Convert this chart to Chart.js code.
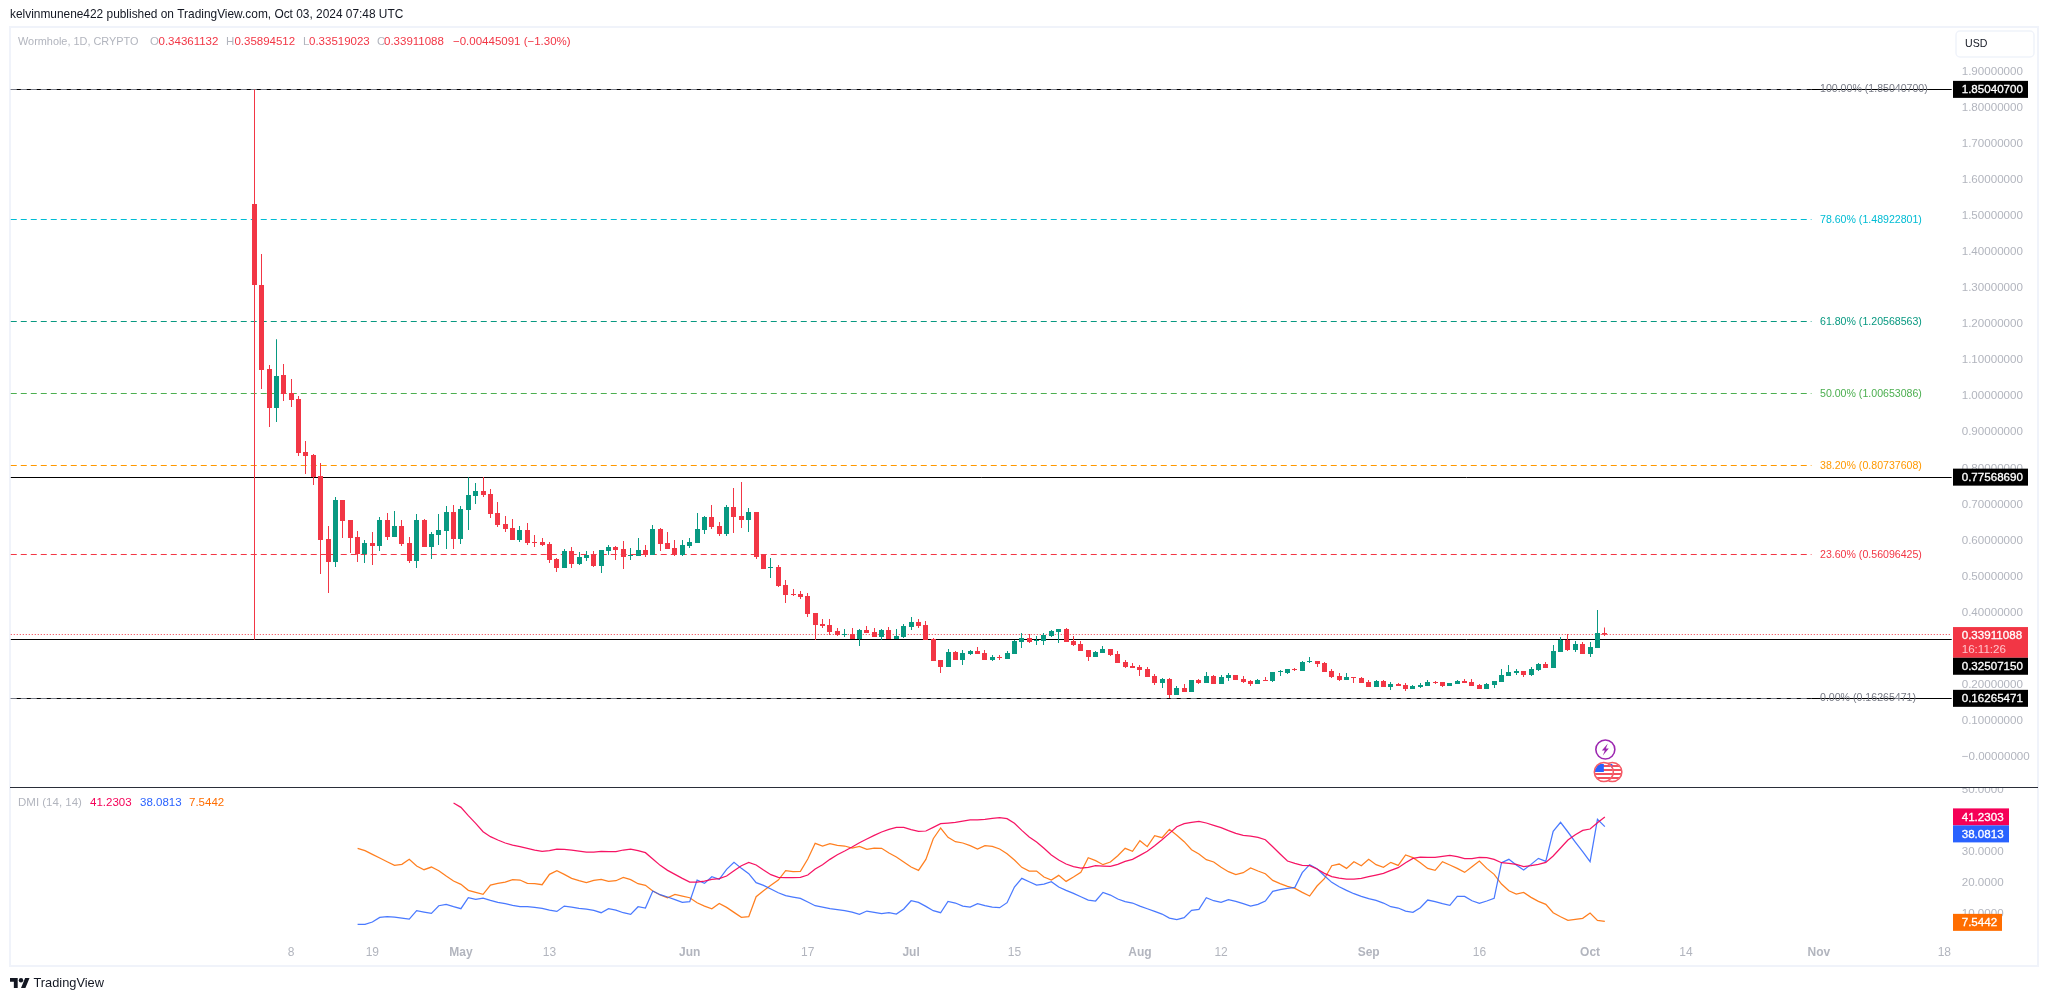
<!DOCTYPE html>
<html><head><meta charset="utf-8">
<style>html,body{margin:0;padding:0;background:#fff}canvas{display:block}</style>
<script src="https://cdn.jsdelivr.net/npm/chart.js@4/dist/chart.umd.min.js"></script>
</head><body><canvas id="c" width="2048" height="1001"></canvas>
<script>
const firstCandleDate='2024-04-03', diStartDate='2024-04-17', adxStartDate='2024-04-30';
const opens=[1.5327,1.3082,1.0754,.9673,1.0588,1.0089,.9922,.8453,.8370,.7788,
.6042,.5404,.7123,.6568,.6097,.5626,.5931,.5848,.6568,.6097,
.6402,.5931,.5432,.6568,.5820,.6153,.6263,.6790,.6042,.6846,
.7234,.7372,.7289,.6762,.6457,.6347,.6014,.6291,.5958,.5958,
.5903,.5487,.5238,.5709,.5349,.5515,.5598,.5293,.5709,.5820,
.5765,.5570,.5570,.5737,.5598,.6319,.5931,.5792,.5598,.5848,
.5931,.6291,.6652,.6402,.6180,.6929,.6679,.6568,.6790,.5598,
.5238,.5266,.4767,.4517,.4517,.4462,.3990,.3686,.3658,.3491,
.3381,.3408,.3270,.3519,.3464,.3325,.3519,.3270,.3325,.3602,
.3741,.3658,.3270,.2688,.2493,.2909,.2688,.2854,.2937,.2882,
.2688,.2771,.2715,.2854,.3186,.3297,.3215,.3215,.3354,.3465,
.3548,.3215,.3132,.2966,.2772,.2882,.2993,.2855,.2633,.2522,
.2494,.2439,.2245,.2051,.2162,.1718,.1912,.1801,.2134,.2051,
.2245,.2023,.2190,.2273,.2162,.2106,.2023,.2134,.2106,.2356,
.2328,.2439,.2384,.2633,.2661,.2605,.2384,.2245,.2134,.2217,
.2190,.2079,.1940,.2106,.1940,.2023,.1995,.1884,.1940,.1968,
.2079,.2079,.1968,.2023,.2106,.2079,.1995,.1884,.1995,.2079,
.2245,.2328,.2384,.2273,.2411,.2578,.2467,.2910,.3243,.2966,
.3132,.2855,.3021,.34361132];
const highs=[1.8504,1.394,1.0865,1.158,1.0893,1.0477,1.0006,.8758,.8398,.8148,
.6402,.7206,.7123,.6568,.6263,.6014,.6236,.6651,.6762,.6818,
.6568,.6097,.6735,.6596,.6236,.6735,.6956,.6984,.6956,.7751,
.7594,.7760,.7428,.7067,.6679,.6596,.6402,.6485,.6153,.6069,
.5958,.5515,.5765,.5820,.5682,.5709,.5709,.5737,.5875,.5848,
.5986,.5792,.6069,.5875,.6430,.6347,.6236,.6014,.6014,.6069,
.6762,.6679,.6984,.6513,.6984,.7455,.7622,.6901,.6790,.5626,
.5515,.5321,.4905,.4656,.4600,.4545,.3990,.3824,.3824,.3575,
.3547,.3575,.3547,.3630,.3575,.3547,.3602,.3547,.3686,.3879,
.3824,.3769,.3297,.2688,.2993,.2937,.2965,.2965,.3048,.2965,
.2826,.2826,.2937,.3242,.3436,.3408,.3354,.3437,.3520,.3548,
.3575,.3354,.3215,.2966,.2938,.3077,.2993,.2938,.2688,.2605,
.2550,.2494,.2300,.2190,.2190,.1968,.2023,.2134,.2162,.2356,
.2273,.2273,.2328,.2273,.2245,.2134,.2162,.2217,.2356,.2411,
.2439,.2467,.2661,.2772,.2661,.2633,.2439,.2328,.2328,.2217,
.2217,.2134,.2134,.2134,.2079,.2051,.2051,.1995,.2051,.2134,
.2106,.2079,.2051,.2134,.2162,.2162,.2023,.2051,.2106,.2439,
.2550,.2439,.2384,.2494,.2605,.2633,.3104,.3326,.3409,.3215,
.3187,.3187,.4074,.35894512];
const lows=[.3250,1.020,.9146,.9285,.9867,.9701,.8342,.7843,.7539,.5071,
.4545,.5265,.6069,.5654,.5404,.5376,.5321,.5709,.6014,.6097,
.5848,.5376,.5238,.5820,.5487,.5875,.5765,.5765,.5903,.6291,
.7012,.7206,.6624,.6374,.6236,.6014,.5958,.5875,.5820,.5848,
.5376,.5127,.5238,.5238,.5321,.5432,.5265,.5099,.5598,.5460,
.5210,.5460,.5570,.5543,.5598,.5709,.5765,.5570,.5570,.5792,
.5931,.6180,.6319,.6125,.6125,.6208,.6347,.6236,.5487,.5210,
.4961,.4711,.4268,.4462,.4379,.3879,.3242,.3575,.3381,.3353,
.3325,.3270,.3075,.3436,.3325,.3242,.3270,.3270,.3297,.3519,
.3575,.3242,.2660,.2327,.2493,.2688,.2549,.2826,.2854,.2688,
.2660,.2688,.2715,.2854,.3020,.3159,.3104,.3104,.3326,.3160,
.3187,.3077,.2938,.2661,.2772,.2882,.2799,.2605,.2467,.2467,
.2245,.2217,.1995,.1912,.1635,.1718,.1801,.1801,.2023,.2051,
.2023,.2023,.2106,.2134,.2051,.1968,.2023,.2106,.2079,.2245,
.2300,.2384,.2384,.2605,.2494,.2356,.2190,.2106,.2134,.2051,
.2051,.1940,.1940,.1940,.1857,.1968,.1829,.1884,.1912,.1968,
.2023,.1940,.1968,.2023,.2051,.1968,.1884,.1884,.1912,.2079,
.2245,.2273,.2217,.2245,.2384,.2467,.2467,.2910,.2938,.2910,
.2855,.2772,.3021,.33519023];
const closes=[1.3082,1.0726,.9673,1.0560,1.0061,.9895,.8426,.8342,.7760,.6014,
.5404,.7123,.6541,.6069,.5626,.5931,.5848,.6568,.6097,.6402,
.5903,.5432,.6568,.5820,.6180,.6291,.6790,.6042,.6873,.7262,
.7372,.7262,.6735,.6430,.6319,.6014,.6291,.5931,.5931,.5875,
.5460,.5238,.5709,.5349,.5543,.5598,.5293,.5737,.5820,.5737,
.5543,.5598,.5737,.5598,.6319,.5903,.5765,.5598,.5875,.5959,
.6319,.6652,.6374,.6180,.6929,.6652,.6568,.6790,.5543,.5210,
.5266,.4739,.4490,.4490,.4434,.3963,.3658,.3630,.3464,.3381,
.3408,.3270,.3519,.3436,.3325,.3519,.3270,.3353,.3630,.3741,
.3630,.3242,.2660,.2493,.2909,.2688,.2882,.2937,.2854,.2688,
.2771,.2743,.2882,.3214,.3297,.3190,.3243,.3381,.3492,.3548,
.3187,.3104,.2938,.2772,.2910,.2993,.2827,.2605,.2494,.2467,
.2411,.2217,.2051,.2162,.1718,.1912,.1801,.2134,.2051,.2245,
.2023,.2217,.2273,.2134,.2079,.2023,.2134,.2106,.2356,.2384,
.2439,.2411,.2633,.2661,.2578,.2356,.2217,.2134,.2217,.2190,
.2051,.1940,.2106,.1940,.2023,.1968,.1884,.1968,.1995,.2079,
.2051,.1968,.2051,.2106,.2051,.1968,.1884,.2023,.2106,.2273,
.2356,.2384,.2273,.2439,.2578,.2467,.2938,.3243,.2966,.3132,
.2855,.3049,.3437,.33911088];
const diMinus=[31.08,30.33,29.15,27.97,26.78,25.60,25.92,27.54,25.39,24.20,
25.06,23.88,22.16,20.55,19.47,17.54,16.89,16.25,19.26,19.79,
20.22,20.98,20.87,19.79,19.69,19.36,22.70,23.88,22.70,21.41,
20.65,20.01,20.76,21.08,20.44,20.65,21.73,20.98,19.69,19.15,
17.32,16.03,15.17,16.25,15.71,15.17,13.56,
12.48,11.62,13.34,12.05,10.44,8.83,9.04,15.49,17.43,19.15,20.87,23.88,23.56,23.67,27.65,32.70,31.84,32.59,32.05,31.84,31.19,31.73,30.76,31.19,31.09,29.58,28.29,26.68,25.06,23.99,27.54,34.20,37.65,34.63,33.24,32.81,31.95,30.87,31.95,31.73,30.87,29.37,27.32,24.96,23.77,23.77,21.84,20.87,22.38,20.44,21.84,23.34,28.08,27.11,25.82,26.68,28.72,31.09,30.12,33.56,31.62,35.17,34.53,37.22,35.28,33.24,30.66,29.26,
27.43,26.68,24.96,23.56,22.59,23.24,24.74,23.77,22.91,20.76,19.69,18.83,18.18,16.89,15.71,18.94,21.30,25.50,26.03,24.63,26.79,25.50,27.54,25.82,24.96,26.57,25.60,28.94,28.08,26.46,24.63,23.99,26.79,25.71,24.63,23.34,25.17,27.00,24.63,22.70,19.58,17.43,16.35,16.89,15.28,13.99,13.02,10.33,9.04,7.86,8.18,8.51,10.23,7.86,7.5442];
const diPlus=[6.57,6.57,7.32,8.83,9.04,8.93,8.61,8.29,10.98,10.55,
10.12,12.59,13.02,12.27,11.62,15.17,14.63,15.06,14.31,13.66,
13.24,12.70,12.27,12.27,12.05,11.73,11.19,10.76,12.48,12.16,
11.73,11.52,11.08,10.33,11.62,11.19,10.33,9.79,12.27,11.84,
17.32,16.14,15.39,14.53,13.66,13.88,20.87,
19.80,21.95,21.09,24.31,26.57,24.63,22.91,20.01,19.15,17.97,16.78,15.82,15.39,14.96,13.77,12.59,12.16,11.62,11.30,10.98,10.55,9.80,10.87,10.44,10.01,10.33,9.90,11.52,14.20,13.67,12.38,10.98,10.33,13.99,13.45,12.48,12.16,13.24,12.59,12.16,11.95,13.56,18.61,21.41,20.33,19.26,19.58,20.33,18.61,17.54,16.57,15.49,14.42,14.10,16.89,16.03,14.74,13.88,13.45,12.48,11.62,10.76,9.90,8.61,8.07,8.72,11.09,11.41,
15.17,14.20,13.67,14.53,13.99,13.24,12.48,13.02,14.10,17.22,17.75,18.18,18.51,23.24,25.82,24.53,22.27,20.12,18.72,17.54,16.46,15.60,14.85,14.31,13.45,12.27,11.84,10.87,10.44,11.95,14.42,13.88,13.24,12.70,15.60,15.60,14.20,13.34,14.10,14.96,26.46,27.54,25.71,24.10,25.92,27.86,26.89,36.57,39.47,36.36,33.13,30.01,26.79,40.44,38.0813];
const adx=[45.71,44.31,41.62,39.15,36.46,34.85,33.77,32.81,32.16,31.62,
31.08,30.55,30.12,30.33,30.87,30.76,30.55,30.22,29.90,29.90,
30.12,30.01,30.01,30.55,30.87,30.33,29.69,27.64,25.60,23.99,
22.70,21.41,20.22,20.22,
20.55,21.09,21.30,22.16,23.88,25.50,26.57,25.71,24.10,22.59,21.73,21.62,21.62,21.73,22.48,24.42,25.82,27.54,29.04,30.23,31.52,32.91,34.10,35.28,36.35,37.22,37.86,37.86,37.11,36.57,36.68,37.86,39.04,39.26,39.47,39.90,40.23,40.23,40.44,40.76,40.98,40.66,39.15,36.89,34.74,33.13,31.09,28.94,27.32,26.03,25.17,24.74,24.96,25.50,25.39,25.28,25.92,26.89,27.54,28.83,30.12,31.95,33.88,35.92,38.08,39.04,39.47,39.80,
39.26,38.51,37.75,36.79,35.92,35.28,35.06,34.63,33.88,31.62,29.26,27.00,26.25,25.60,25.50,24.42,23.02,21.95,21.52,21.20,21.20,21.41,21.95,22.48,23.02,23.99,24.85,26.46,27.86,28.29,28.18,28.18,28.51,28.83,28.40,27.75,27.75,28.18,28.08,27.54,26.46,26.25,25.92,25.17,25.50,25.92,26.57,28.61,31.19,33.78,35.50,36.89,37.32,39.37,41.2303];
const fibLevels=[1.850407,1.48922801,1.20568563,1.00653086,0.80737608,0.56096425,0.16265471];
const fibNames=['100.00%','78.60%','61.80%','50.00%','38.20%','23.60%','0.00%'];
const fibEndDate='2024-10-31', axisStartDate='2024-03-01', axisEndDate='2024-11-19';
const supportLevels=[1.850407,0.7756869,0.3250715,0.16265471];
const lastPrice=0.33911088, countdown='16:11:26';
const priceTicks=[0,.1,.2,.3,.4,.5,.6,.7,.8,.9,1,1.1,1.2,1.3,1.4,1.5,1.6,1.7,1.8,1.9];
const dmiTicks=[10,20,30,40,50];
const xTickDates=['2024-04-08','2024-04-19','2024-05-01','2024-05-13','2024-06-01','2024-06-17','2024-07-01','2024-07-15','2024-08-01','2024-08-12','2024-09-01','2024-09-16','2024-10-01','2024-10-14','2024-11-01','2024-11-18'];
const xTickLabels=['8','19','May','13','Jun','17','Jul','15','Aug','12','Sep','16','Oct','14','Nov','18'];
const monthTicks=['May','Jun','Jul','Aug','Sep','Oct','Nov'];

const FONT='"Liberation Sans"';
const RED='#f23645',GREEN='#089981',GREY='#b2b5be';
const FIB_COLORS=['#787b86','#00bcd4','#089981','#4caf50','#ff9800','#f23645','#787b86'];
const PINK='#f50057',BLUE='#2962ff',ORANGE='#ff6d00';

function dayList(a,b){const r=[];let t=Date.parse(a+'T00:00:00Z');const e=Date.parse(b+'T00:00:00Z');while(t<=e){r.push(new Date(t).toISOString().slice(0,10));t+=864e5;}return r;}
const labels=dayList(axisStartDate,axisEndDate);
const i0=labels.indexOf(firstCandleDate);
const candleDates=labels.slice(i0,i0+opens.length);
const seriesFrom=(start,vals)=>{const s=labels.indexOf(start);return vals.map((y,k)=>({x:labels[s+k],y}));};
const upColor=(i)=>closes[i]>=opens[i]?GREEN:RED;

const hline=(v,color,dash,end,order,lw)=>({type:'line',data:[{x:axisStartDate,y:v},{x:end,y:v}],yAxisID:'y',borderColor:color,borderWidth:lw||1,borderDash:dash,pointRadius:0,order,snap:true,tension:0});
const dmiLine=(vals,start,color,order)=>({type:'line',data:seriesFrom(start,vals),yAxisID:'yDmi',borderColor:color,borderWidth:1.25,pointRadius:0,tension:0,order});

const datasets=[
 ...supportLevels.map(v=>hline(v,'#000000',[],axisEndDate,12,1)),
 ...fibLevels.map((v,k)=>hline(v,FIB_COLORS[k],[6,4],fibEndDate,11,1)),
 hline(lastPrice,RED,[1,2],axisEndDate,10,1),
 {type:'bar',label:'wick',data:candleDates.map((d,i)=>({x:d,y:[lows[i],highs[i]]})),yAxisID:'y',barThickness:1,grouped:false,inflateAmount:0,borderWidth:0,backgroundColor:candleDates.map((d,i)=>upColor(i)),order:3,snapX:true},
 {type:'bar',label:'body',data:candleDates.map((d,i)=>({x:d,y:[opens[i],closes[i]]})),yAxisID:'y',barThickness:5,grouped:false,inflateAmount:0,borderWidth:0,backgroundColor:candleDates.map((d,i)=>upColor(i)),order:2,snapX:true},
 dmiLine(diMinus,diStartDate,'rgba(255,109,0,.88)',3),
 dmiLine(diPlus,diStartDate,'rgba(41,98,255,.85)',2),
 dmiLine(adx,adxStartDate,'rgba(245,0,87,.92)',1)
];

function txt(ctx,s,x,y,color,size,weight,align){ctx.font=(weight?weight+' ':'')+size+'px '+FONT;ctx.fillStyle=color;ctx.textAlign=align||'left';ctx.textBaseline='middle';ctx.fillText(s,x,y);}
function tagText(ctx,s,y,color){txt(ctx,s,1961.7,y,color,TAG);ctx.strokeStyle=color;ctx.lineWidth=.3;ctx.strokeText(s,1961.7,y);}
function tag(ctx,s,top,w,h,bg){ctx.fillStyle=bg;ctx.fillRect(1953,top,w,h);tagText(ctx,s,top+h/2+.5,'#fff');}
const AX=11.6,TAG=11.6,LEG=11.5,FIB=10.6;

const snapPlugin={id:'snap',beforeDatasetsDraw(chart){chart.data.datasets.forEach((ds,i)=>{const m=chart.getDatasetMeta(i);
  if(ds.snap)m.data.forEach(p=>{p.y=Math.floor(p.y)+.5;});
  if(ds.snapX)m.data.forEach(p=>{p.x=Math.floor(p.x)+.5;});});}};

const framePlugin={id:'frame',beforeDraw(chart){const c=chart.ctx;c.save();c.fillStyle='#fff';c.fillRect(0,0,2048,1001);c.strokeStyle='#f0f3fa';c.lineWidth=2;c.strokeRect(10,27,2028,939);c.restore();}};

const overlay={id:'overlay',afterDraw(chart){const c=chart.ctx,y=chart.scales.y,d=chart.scales.yDmi,x=chart.scales.x;c.save();
 // header
 txt(c,'kelvinmunene422 published on TradingView.com, Oct 03, 2024 07:48 UTC',10,15,'#131722',11.9);
 txt(c,'Wormhole, 1D, CRYPTO',18,42,GREY,10.9);
 [['O','0.34361132',150,158.5],['H','0.35894512',226,234.4],['L','0.33519023',303,309],['C','0.33911088',377,384]].forEach(a=>{txt(c,a[0],a[2],42,GREY,LEG);txt(c,a[1],a[3],42,RED,LEG);});
 txt(c,'\u22120.00445091 (\u22121.30%)',453,42,RED,LEG);
 // DMI legend
 txt(c,'DMI (14, 14)',18,803,GREY,LEG);
 txt(c,'41.2303',90,803,PINK,LEG);txt(c,'38.0813',140,803,BLUE,LEG);txt(c,'7.5442',189,803,ORANGE,LEG);
 // fib labels
 fibLevels.forEach((v,k)=>{txt(c,fibNames[k]+' ('+v.toFixed(8)+')',1820,y.getPixelForValue(v),FIB_COLORS[k],FIB);});
 // separator between panes
 c.fillStyle='#fff';c.fillRect(1953,780,83,7);
 c.fillStyle='#2a2e39';c.fillRect(10,787,2028,1);
 // USD box
 c.strokeStyle='#f0f3fa';c.lineWidth=1.5;c.beginPath();c.roundRect(1956,31,78,26,4);c.stroke();
 txt(c,'USD',1965,44.5,'#131722',10.6);
 // price tags
 const h=17,W=75;
 const py=v=>y.getPixelForValue(v);
 tag(c,'1.85040700',py(1.850407)-8.5,W,h,'#000');
 tag(c,'0.77568690',py(.7756869)-8.5,W,h,'#000');
 tag(c,'0.16265471',py(.16265471)-8.5,W,h,'#000');
 const rt=py(lastPrice)-7.6;
 c.fillStyle=RED;c.fillRect(1953,rt,W,30.7);
 tagText(c,lastPrice.toFixed(8),rt+8.5,'#fff');
 txt(c,countdown,1961.7,rt+23,'#ffc4ca',TAG);
 tag(c,'0.32507150',rt+30.7,W,h,'#000');
 const adxTop=d.getPixelForValue(41.2303)-8.5;
 tag(c,'41.2303',adxTop,56,h,PINK);
 tag(c,'38.0813',adxTop+h,56,h,BLUE);
 tag(c,'7.5442',d.getPixelForValue(7.5442)-7.5,49,h,ORANGE);
 // event icons above the separator
 const ex=x.getPixelForValue('2024-10-03')+.5;
 c.lineWidth=1.6;c.strokeStyle='#9c27b0';c.beginPath();c.arc(ex,749.5,9.5,0,Math.PI*2);c.stroke();
 c.fillStyle='#9c27b0';c.beginPath();[[2.5,-6],[-3.5,1],[-.5,1],[-2.5,6],[3.5,-1],[.5,-1]].forEach((p,i)=>i?c.lineTo(ex+p[0],749.5+p[1]):c.moveTo(ex+p[0],749.5+p[1]));c.closePath();c.fill();
 const flag=(cx,cy)=>{c.save();c.beginPath();c.arc(cx,cy,9,0,Math.PI*2);c.fillStyle='#fff';c.fill();c.clip();
  c.fillStyle='#f2505e';[-7,-3,1,5].forEach(o=>c.fillRect(cx-9,cy+o,18,2));c.fillStyle='#2962ff';c.fillRect(cx-9,cy-8,9,8);c.restore();
  c.strokeStyle='#f55a66';c.lineWidth=1.6;c.beginPath();c.arc(cx,cy,9.5,0,Math.PI*2);c.stroke();};
 flag(ex+7,772);flag(ex-1.5,772);
 // branding
 c.save();c.translate(10,975.8);c.scale(.55,.55);c.fillStyle='#131722';c.fill(new Path2D('M14 22H7V11H0V4h14v18zM28 22h-8l7.5-18h8L28 22z'));c.beginPath();c.arc(20,8,4,0,Math.PI*2);c.fill();c.restore();
 txt(c,'TradingView',33.5,983.5,'#131722',12.8);
 c.restore();}};

new Chart(document.getElementById('c'),{type:'bar',data:{labels,datasets},plugins:[framePlugin,snapPlugin,overlay],options:{
 responsive:false,devicePixelRatio:1,animation:false,
 layout:{padding:{left:10.75,top:27,right:11.3,bottom:36}},
 plugins:{legend:{display:false},tooltip:{enabled:false},title:{display:false}},
 scales:{
  x:{type:'category',offset:false,position:'bottom',afterFit:s=>{s.height=28;},grid:{display:false,drawTicks:false},border:{display:false},
   ticks:{autoSkip:false,maxRotation:0,minRotation:0,padding:8,color:GREY,
    font:ctx=>({family:FONT,size:12,weight:(ctx.tick&&monthTicks.includes(ctx.tick.label))?'bold':'normal'}),
    callback:(v,i)=>{const k=xTickDates.indexOf(labels[i]);return k<0?'':xTickLabels[k];}}},
  y:{type:'linear',position:'right',stack:'panes',stackWeight:760,weight:0,min:-0.0831,max:2.0233,afterFit:s=>{s.width=85;},afterBuildTicks:s=>{s.ticks=priceTicks.map(value=>({value}));},
   grid:{display:false,drawTicks:false},border:{display:false},
   ticks:{padding:10,color:GREY,font:{family:FONT,size:AX},callback:v=>(v===0?'\u22120.00000000':Number(v).toFixed(8))}},
  yDmi:{type:'linear',position:'right',stack:'panes',stackWeight:150,weight:1,min:2.5,max:50.87,afterFit:s=>{s.width=85;},afterBuildTicks:s=>{s.ticks=dmiTicks.map(value=>({value}));},
   grid:{display:false,drawTicks:false},border:{display:false},
   ticks:{padding:10,color:GREY,font:{family:FONT,size:AX},callback:v=>Number(v).toFixed(4)}}
 }}});
</script></body></html>
